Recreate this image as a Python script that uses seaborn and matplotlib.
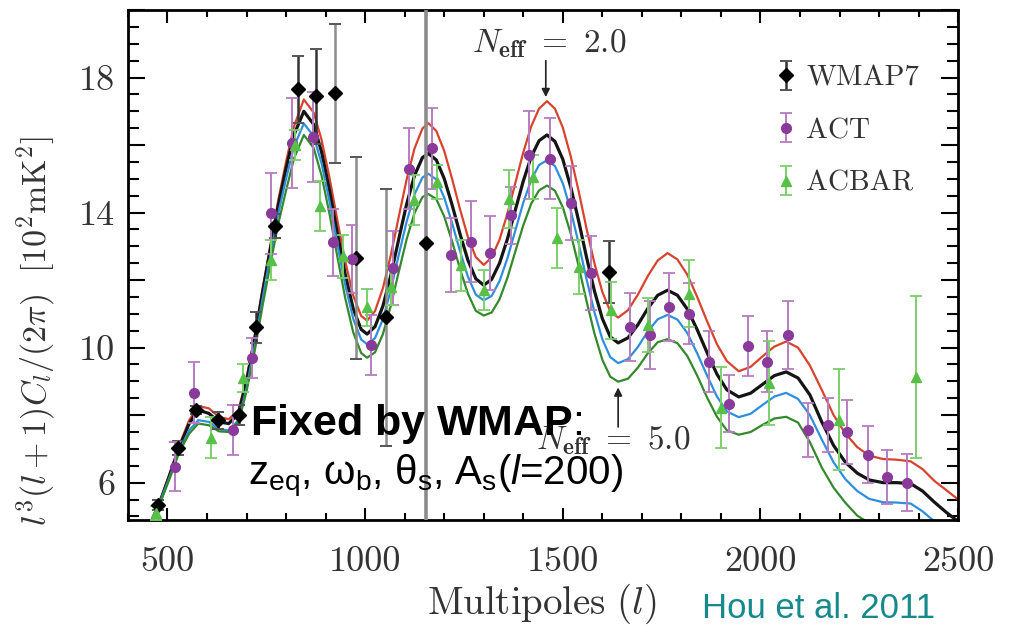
import numpy as np
import pandas as pd
import matplotlib
matplotlib.use("Agg")
import matplotlib.pyplot as plt
import seaborn as sns

# ---------------- data ----------------
ell_grid = [450, 480, 505, 530, 555, 578, 605, 630, 655, 680,
            700, 720, 740, 760, 780, 800, 820, 845, 870, 890,
            910, 930, 950, 970, 990, 1005, 1025, 1045, 1065, 1085,
            1105, 1125, 1145, 1160, 1180, 1200, 1220, 1240, 1260, 1280,
            1300, 1320, 1340, 1360, 1380, 1400, 1420, 1440, 1460, 1480,
            1500, 1520, 1540, 1560, 1580, 1600, 1620, 1640, 1665, 1690,
            1715, 1740, 1765, 1790, 1815, 1840, 1865, 1890, 1915, 1945,
            1975, 2005, 2035, 2065, 2095, 2125, 2155, 2185, 2215, 2245,
            2275, 2310, 2345, 2380, 2410, 2440, 2470, 2500]

model_neff2 = [4.6, 5.4, 6.25, 7.1, 7.85, 8.27, 8.2, 7.95, 7.88, 8.15,
               9.1, 10.3, 11.7, 13.0, 14.35, 15.5, 16.55, 17.35, 16.96, 16.15,
               15.03, 13.76, 12.54, 11.54, 10.94, 10.8, 11.08, 11.76, 12.74, 13.87,
               14.98, 15.9, 16.49, 16.65, 16.42, 15.83, 15.0, 14.1, 13.28, 12.68,
               12.45, 12.67, 13.2, 13.97, 14.88, 15.78, 16.55, 17.08, 17.3, 17.08,
               16.52, 15.67, 14.64, 13.53, 12.5, 11.65, 11.08, 10.89, 11.11, 11.57,
               12.12, 12.58, 12.8, 12.61, 12.16, 11.5, 10.78, 10.1, 9.6, 9.3,
               9.43, 9.74, 10.03, 10.18, 10.0, 9.47, 8.75, 8.0, 7.45, 7.05,
               6.8, 6.7, 6.68, 6.63, 6.4, 6.05, 5.78, 5.5]

model_fid = [4.6, 5.4, 6.2, 7.05, 7.75, 8.15, 8.05, 7.8, 7.75, 8.05,
             9.0, 10.2, 11.6, 12.9, 14.2, 15.3, 16.3, 17.0, 16.61, 15.79,
             14.66, 13.38, 12.15, 11.15, 10.54, 10.4, 10.62, 11.23, 12.14, 13.21,
             14.25, 15.10, 15.63, 15.75, 15.56, 15.01, 14.23, 13.37, 12.59, 12.04,
             11.85, 12.02, 12.50, 13.22, 14.08, 14.93, 15.65, 16.13, 16.3, 16.11,
             15.58, 14.76, 13.76, 12.68, 11.68, 10.86, 10.32, 10.14, 10.29, 10.68,
             11.16, 11.55, 11.7, 11.55, 11.14, 10.53, 9.85, 9.21, 8.75, 8.54,
             8.65, 8.91, 9.17, 9.28, 9.1, 8.6, 7.8, 7.1, 6.6, 6.28,
             6.08, 6.0, 6.0, 5.97, 5.75, 5.42, 5.12, 4.85]

model_blue = [4.6, 5.4, 6.15, 6.95, 7.55, 7.85, 7.8, 7.58, 7.55, 7.85,
              8.8, 10.0, 11.4, 12.7, 13.95, 15.0, 15.95, 16.64, 16.26, 15.45,
              14.33, 13.06, 11.84, 10.85, 10.24, 10.1, 10.28, 10.84, 11.71, 12.74,
              13.73, 14.54, 15.04, 15.15, 14.98, 14.45, 13.69, 12.86, 12.1, 11.57,
              11.4, 11.53, 11.97, 12.65, 13.47, 14.29, 14.97, 15.41, 15.55, 15.38,
              14.87, 14.07, 13.09, 12.03, 11.05, 10.25, 9.72, 9.54, 9.66, 10.02,
              10.48, 10.84, 10.97, 10.83, 10.43, 9.83, 9.17, 8.55, 8.11, 7.94,
              8.04, 8.3, 8.55, 8.66, 8.48, 8.0, 7.28, 6.6, 6.1, 5.75,
              5.52, 5.42, 5.41, 5.38, 5.15, 4.85, 4.6, 4.35]

model_neff5 = [4.55, 5.35, 6.1, 6.9, 7.45, 7.75, 7.7, 7.52, 7.5, 7.8,
               8.7, 9.85, 11.2, 12.45, 13.65, 14.65, 15.6, 16.3, 15.91, 15.09,
               13.96, 12.68, 11.45, 10.45, 9.84, 9.7, 9.86, 10.4, 11.24, 12.24,
               13.21, 13.99, 14.46, 14.55, 14.4, 13.89, 13.15, 12.33, 11.6, 11.09,
               10.95, 11.04, 11.43, 12.07, 12.85, 13.62, 14.26, 14.66, 14.8, 14.65,
               14.16, 13.38, 12.42, 11.38, 10.42, 9.64, 9.14, 8.99, 9.08, 9.41,
               9.83, 10.16, 10.25, 10.13, 9.75, 9.17, 8.52, 7.95, 7.55, 7.42,
               7.5, 7.71, 7.9, 7.95, 7.78, 7.2, 6.45, 5.85, 5.4, 5.02,
               4.8, 4.7, 4.68, 4.65, 4.45, 4.2, 4.0, 3.8]

wmap_ell = [477, 528, 573, 627, 680, 725, 773, 829, 875, 925, 976, 1054, 1153, 1617]
wmap_val = [5.35, 7.03, 8.15, 7.85, 8.0, 10.6, 13.6, 17.65, 17.44, 17.53, 12.65, 10.9, 13.1, 12.24]
wmap_err = [0.15, 0.2, 0.12, 0.25, 0.3, 0.45, 0.35, 1.0, 1.42, 2.07, 3.0, 3.8, 12.0, 0.93]

act_ell = [520, 566, 667, 713, 761, 816, 867, 918, 968, 1016, 1070, 1110, 1168, 1216,
           1267, 1315, 1368, 1414, 1467, 1520, 1571, 1670, 1720, 1768, 1819, 1870,
           1920, 1968, 2016, 2070, 2120, 2171, 2219, 2272, 2320, 2371]
act_val = [6.47, 8.66, 7.57, 9.69, 13.98, 16.05, 16.23, 13.12, 12.62, 10.08, 12.36, 15.3,
           15.9, 12.74, 13.13, 12.8, 13.92, 15.7, 15.6, 14.28, 12.2, 10.61, 10.37, 11.2,
           11.0, 9.58, 8.34, 10.05, 9.58, 10.37, 7.57, 7.7, 7.5, 6.83, 6.18, 6.0]
act_err = [0.72, 0.9, 0.74, 0.6, 1.2, 1.33, 1.33, 1.0, 1.0, 0.9, 1.1, 1.2, 1.2, 1.1,
           1.2, 1.1, 0.85, 1.3, 1.2, 1.1, 1.1, 1.0, 1.0, 1.0, 0.9, 0.9, 0.85, 0.9,
           0.9, 1.0, 0.8, 0.8, 0.95, 0.85, 0.8, 0.85]

acbar_ell = [472, 609, 692, 761, 822, 887, 944, 1006, 1065, 1123, 1183, 1242, 1300,
             1363, 1424, 1485, 1540, 1622, 1715, 1819, 1900, 2021, 2199, 2394]
acbar_val = [5.1, 7.33, 9.1, 12.6, 16.0, 14.2, 12.7, 11.2, 11.8, 14.37, 14.9, 12.44,
             11.7, 14.4, 15.05, 13.25, 12.4, 11.1, 10.67, 11.6, 8.22, 8.96, 7.86, 9.13]
acbar_err = [0.2, 0.6, 0.4, 0.6, 0.45, 0.75, 0.65, 0.55, 0.55, 0.75, 0.5, 0.75, 0.6,
             0.85, 0.65, 0.88, 0.8, 0.85, 0.8, 1.0, 1.2, 1.25, 1.5, 2.4]

x_ticks = [500, 1000, 1500, 2000, 2500]
y_ticks = [6, 10, 14, 18]

# ---------------- style ----------------
sns.set_theme(style="ticks")
plt.rcParams["font.family"] = ["Liberation Sans", "DejaVu Sans"]
plt.rcParams["mathtext.fontset"] = "custom"
plt.rcParams["mathtext.rm"] = "Liberation Sans"
plt.rcParams["mathtext.it"] = "Liberation Sans:italic"
plt.rcParams["mathtext.bf"] = "Liberation Sans:bold"

fig = plt.figure(figsize=(10.15, 6.27), dpi=100)
fig.patch.set_facecolor("white")
ax = fig.add_axes([0.126, 0.171, 0.818, 0.813])
ax.set_facecolor("white")

# theory curves via seaborn
models = {
    "neff2": (model_neff2, "#d8432e"),
    "fid": (model_fid, "#151515"),
    "blue": (model_blue, "#2f8fdc"),
    "neff5": (model_neff5, "#33892b"),
}
rows = []
for name, (vals, col) in models.items():
    for e, v in zip(ell_grid, vals):
        rows.append({"ell": e, "cl": v, "model": name})
df = pd.DataFrame(rows)
pal = {k: c for k, (v, c) in models.items()}
sns.lineplot(data=df, x="ell", y="cl", hue="model", palette=pal, estimator=None,
             sort=False, legend=False, linewidth=1.6, ax=ax, zorder=2)
for line in ax.lines:
    if matplotlib.colors.to_hex(line.get_color()) == "#151515":
        line.set_linewidth(2.3)

# data points
h_w = ax.errorbar(wmap_ell, wmap_val, yerr=wmap_err, fmt="D", color="black",
                  ecolor="#555555", elinewidth=1.8, capsize=4, capthick=1.4,
                  markersize=7, zorder=4, label="WMAP7")
# larger WMAP error bars appear lighter grey in the reference
bar_coll = h_w.lines[2][0]
bar_coll.set_colors(["#8c8c8c" if e > 2 else "#333333" for e in wmap_err])
bar_coll.set_linewidths([2.6 if e > 5 else 1.8 for e in wmap_err])

h_a = ax.errorbar(act_ell, act_val, yerr=act_err, fmt="o", color="#8a3a9a",
                  ecolor="#b57dc0", elinewidth=1.4, capsize=4, capthick=1.3,
                  markersize=7, zorder=4, label="ACT")
h_b = ax.errorbar(acbar_ell, acbar_val, yerr=acbar_err, fmt="^", color="#57c046",
                  ecolor="#7ccf6b", elinewidth=1.4, capsize=4, capthick=1.3,
                  markersize=7, zorder=4, label="ACBAR")

ax.set_xlim(400, 2500)
ax.set_ylim(4.9, 20)

# ticks
ax.set_xticks(x_ticks)
ax.set_xticks(np.arange(400, 2501, 100), minor=True)
ax.set_yticks(np.arange(6, 20.1, 2))
ax.set_yticks(np.arange(5, 20.01, 0.5), minor=True)
ax.set_xticklabels([str(t) for t in x_ticks])
ax.set_yticklabels([str(int(t)) if int(t) in y_ticks else "" for t in np.arange(6, 20.1, 2)])
ax.tick_params(axis="both", which="both", direction="in", top=True, right=True,
               color="black", width=1.5)
ax.tick_params(axis="x", which="major", length=9, pad=19)
ax.tick_params(axis="x", which="minor", length=5)
ax.tick_params(axis="y", which="major", length=12, pad=9)
ax.tick_params(axis="y", which="minor", length=8)
for lab in ax.get_xticklabels() + ax.get_yticklabels():
    lab.set_fontfamily("cmr10")
    lab.set_fontsize(26)
    lab.set_color("#333333")
for sp in ax.spines.values():
    sp.set_linewidth(2.0)
    sp.set_color("black")

ax.set_xlabel(r"$\mathrm{Multipoles}\ (l)$", fontsize=28, color="#333333",
              math_fontfamily="cm")
ax.xaxis.set_label_coords(0.498, -0.122)
ax.set_ylabel(r"$l^3(l+1)C_l/(2\pi)\ \ [10^2\mathrm{mK}^2]$", fontsize=24.5,
              color="#333333", math_fontfamily="cm")
ax.yaxis.set_label_coords(-0.085, 0.37)

# legend
leg = ax.legend(handles=[h_w, h_a, h_b], labels=["WMAP7", "ACT", "ACBAR"],
                loc="center left", bbox_to_anchor=(0.75, 0.763), frameon=False,
                handlelength=0.6, handletextpad=0.4, labelspacing=0.9,
                prop={"family": "cmr10", "size": 21})
for t in leg.get_texts():
    t.set_color("#333333")

# annotations
ax.text(1465, 19.0, r"$N_{\mathbf{eff}}\ =\ 2.0$", fontsize=24, ha="center",
        va="center", color="#333333", math_fontfamily="cm", zorder=5)
ax.annotate("", xy=(1457, 17.42), xytext=(1457, 18.5),
            arrowprops=dict(arrowstyle="-|>", color="#222222", lw=1.2,
                            mutation_scale=12, shrinkA=0, shrinkB=0))
ax.text(1628, 7.25, r"$N_{\mathbf{eff}}\ =\ 5.0$", fontsize=24, ha="center",
        va="center", color="#333333", math_fontfamily="cm", zorder=5)
ax.annotate("", xy=(1640, 8.82), xytext=(1640, 7.65),
            arrowprops=dict(arrowstyle="-|>", color="#222222", lw=1.2,
                            mutation_scale=12, shrinkA=0, shrinkB=0))

ax.text(0.147, 0.188, r"$\mathbf{Fixed\ by\ WMAP}$:", transform=ax.transAxes,
        fontsize=31, ha="left", va="center", color="black",
        math_fontfamily="custom", zorder=6)
ax.text(0.145, 0.085,
        r"z$_{\mathrm{eq}}$, ω$_{\mathrm{b}}$, θ$_{\mathrm{s}}$, A$_{\mathrm{s}}$($\mathit{l}$=200)",
        transform=ax.transAxes, fontsize=29, ha="left", va="center", color="black",
        math_fontfamily="custom", zorder=6)

fig.text(0.692, 0.03, "Hou et al. 2011", fontsize=25, color="#15898b",
         ha="left", va="center", family="Liberation Sans")

fig.savefig("out.png", dpi=100, facecolor="white")
